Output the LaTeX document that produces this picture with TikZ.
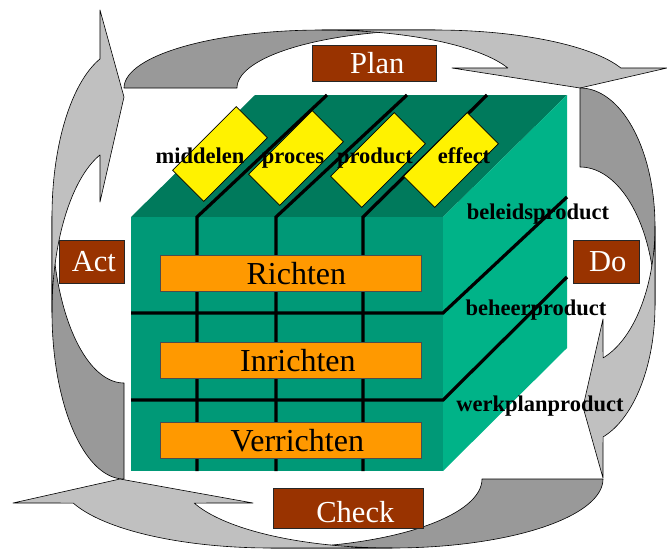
\documentclass[tikz,border=0pt]{standalone}
\usepackage{fontspec}
\setmainfont{Liberation Serif}
\usepackage{graphicx}

\definecolor{bandfront}{RGB}{192,192,192}
\definecolor{bandback}{RGB}{153,153,153}
\definecolor{facefront}{RGB}{0,153,119}
\definecolor{facetop}{RGB}{0,122,92}
\definecolor{faceside}{RGB}{0,179,136}
\definecolor{pdcabrown}{RGB}{153,51,0}
\definecolor{layerorange}{RGB}{255,153,0}

\begin{document}
\begin{tikzpicture}[x=1pt,y=-1pt,
  band/.style={draw=black, line width=0.6pt, line join=round},
  backband/.style={band, fill=bandback},
  frontband/.style={band, fill=bandfront},
  pdca/.style={draw=black!85, line width=0.7pt, fill=pdcabrown, text=white,
    inner sep=0pt, anchor=north west, font=\fontsize{30.5}{36}\selectfont},
  layer/.style={draw=black!70, line width=0.7pt, fill=layerorange,
    minimum width=261pt, minimum height=36pt, inner sep=0pt, anchor=north west,
    font=\fontsize{32}{38}\selectfont},
  gridline/.style={line width=3.2pt, line cap=butt},
  diamondbox/.style={draw=black, line width=0.6pt, fill=yellow,
    minimum width=90pt, minimum height=44pt, rotate=45, inner sep=0pt},
  tag/.style={font=\bfseries\fontsize{22.5}{26}\selectfont, anchor=base, inner sep=0pt}
]
\useasboundingbox (0,0) rectangle (667,550);

% ---------- PDCA cycle: four curved arrows ----------
% Plan arrow (top, bending down to the right)
\draw[backband]
  plot[domain=180:270, samples=50] ({322+198*cos(\x)}, {88+58*sin(\x)})
  -- plot[domain=270:180, samples=50] ({435+198*cos(\x)}, {88+58*sin(\x)}) -- cycle;
\draw[frontband]
  plot[domain=270:339.8, samples=50] ({322+198*cos(\x)}, {88+58*sin(\x)})
  -- (452,68) -- (580,88) -- (667,68)
  -- plot[domain=339.8:270, samples=50] ({435+198*cos(\x)}, {88+58*sin(\x)}) -- cycle;

% Do arrow (right, bending down to the left)
\draw[backband]
  plot[domain=-90:0, samples=50] ({580+75*cos(\x)}, {226.3+138.3*sin(\x)})
  -- plot[domain=0:-90, samples=50] ({580+75*cos(\x)}, {305.3+138.3*sin(\x)}) -- cycle;
\draw[frontband]
  plot[domain=0:72.1, samples=50] ({580+75*cos(\x)}, {226.3+138.3*sin(\x)})
  -- (603,319) -- (583,407) -- (603,478)
  -- plot[domain=72.1:0, samples=50] ({580+75*cos(\x)}, {305.3+138.3*sin(\x)}) -- cycle;

% Check arrow (bottom, bending up to the left)
\draw[backband]
  plot[domain=0:90, samples=50] ({271+211*cos(\x)}, {479+69*sin(\x)})
  -- plot[domain=90:0, samples=50] ({392+211*cos(\x)}, {479+69*sin(\x)}) -- cycle;
\draw[frontband]
  plot[domain=90:159.6, samples=50] ({392+211*cos(\x)}, {479+69*sin(\x)})
  -- (253,503) -- (120,479) -- (13,503)
  -- plot[domain=159.6:90, samples=50] ({271+211*cos(\x)}, {479+69*sin(\x)}) -- cycle;

% Act arrow (left, bending up to the right)
\draw[backband]
  plot[domain=90:180, samples=50] ({124+72*cos(\x)}, {216.2+166.8*sin(\x)})
  -- plot[domain=180:90, samples=50] ({124+72*cos(\x)}, {312.2+166.8*sin(\x)}) -- cycle;
\draw[frontband]
  plot[domain=180:250.5, samples=50] ({124+72*cos(\x)}, {312.2+166.8*sin(\x)})
  -- (100,202) -- (124,97) -- (100,10)
  -- plot[domain=250.5:180, samples=50] ({124+72*cos(\x)}, {216.2+166.8*sin(\x)}) -- cycle;

% ---------- PDCA labels ----------
\node[pdca, minimum width=124pt, minimum height=36pt] (plan) at (312,45) {\hspace*{6pt}Plan};
\node[pdca, minimum width=65pt, minimum height=43pt] (act) at (59,240) {\hspace*{4pt}Act};
\node[pdca, minimum width=66pt, minimum height=43pt] (do) at (573,240) {\hspace*{3pt}Do};
\node[pdca, minimum width=150pt, minimum height=40pt] (check) at (273,488) {\hspace*{14pt}\raisebox{0pt}[29pt][0pt]{Check}};

% ---------- the cube ----------
\coordinate (fnw) at (131,217);
\coordinate (fne) at (443,217);
\coordinate (fse) at (443,471);
\coordinate (fsw) at (131,471);
\coordinate (bnw) at (255,95);
\coordinate (bne) at (567,95);
\coordinate (bse) at (567,348);

\fill[facetop] (fnw) -- (bnw) -- (bne) -- (fne) -- cycle;
\fill[faceside] (fne) -- (bne) -- (bse) -- (fse) -- cycle;
\fill[facefront] (fnw) rectangle (fse);

% columns: middelen / proces / product / effect
\coordinate (c1t) at (327,95);  \coordinate (c1f) at (197,217); \coordinate (c1b) at (197,471);
\coordinate (c2t) at (407,95);  \coordinate (c2f) at (276,217); \coordinate (c2b) at (276,471);
\coordinate (c3t) at (487,95);  \coordinate (c3f) at (363,217); \coordinate (c3b) at (363,471);
\draw[gridline] (c1t) -- (c1f) -- (c1b);
\draw[gridline] (c2t) -- (c2f) -- (c2b);
\draw[gridline] (c3t) -- (c3f) -- (c3b);

% rows: richten / inrichten / verrichten
\coordinate (r1w) at (131,313); \coordinate (r1e) at (443,313); \coordinate (r1b) at (567,197);
\coordinate (r2w) at (131,400); \coordinate (r2e) at (443,400); \coordinate (r2b) at (567,277);
\draw[gridline] (r1w) -- (r1e) -- (r1b);
\draw[gridline] (r2w) -- (r2e) -- (r2b);

% layer bars on the front face
\node[layer] (richten) at (160,255) {\hspace*{11pt}Richten};
\node[layer] (inrichten) at (160,342) {\hspace*{14pt}Inrichten};
\node[layer] (verrichten) at (160,422) {\hspace*{13pt}Verrichten};

% aspect tiles on the top face
\node[diamondbox] (dmid) at (220,154) {};
\node[diamondbox] (dpro) at (296,158) {};
\node[diamondbox] (dprd) at (378,160) {};
\node[diamondbox] (deff) at (451,160) {};

\node[tag] (tmid) at (200,163) {middelen};
\node[tag] (tpro) at (293,163) {proces};
\node[tag] (tprd) at (375,163) {product};
\node[tag] (teff) at (464,163) {effect};

% product levels on the side face
\node[tag] (tbel) at (538,219) {beleidsproduct};
\node[tag] (tbeh) at (536,315) {beheerproduct};
\node[tag] (twer) at (540,411) {werkplanproduct};
\end{tikzpicture}
\end{document}
